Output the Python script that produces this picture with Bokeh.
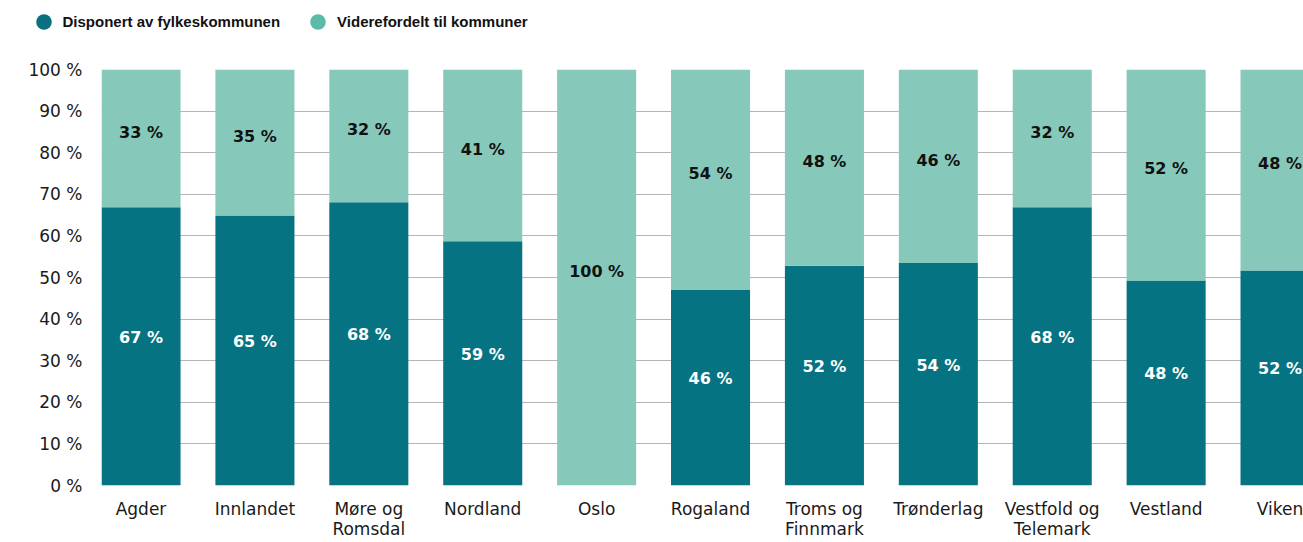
from bokeh.plotting import figure
from bokeh.models import Range1d, FixedTicker, Legend, LegendItem, ColumnDataSource
from bokeh.core.properties import value
from bokeh.embed import file_html
from bokeh.resources import INLINE

# ---------------- data ----------------
categories = ["Agder", "Innlandet", "Møre og\nRomsdal", "Nordland", "Oslo", "Rogaland",
              "Troms og\nFinnmark", "Trønderlag", "Vestfold og\nTelemark", "Vestland", "Viken"]
# share disposed by the county (bar height, %)
dark_share = [66.9, 64.9, 68.1, 58.7, 0.0, 47.0, 52.8, 53.5, 66.9, 49.3, 51.7]
# printed labels
dark_labels = [67, 65, 68, 59, None, 46, 52, 54, 68, 48, 52]
light_labels = [33, 35, 32, 41, 100, 54, 48, 46, 32, 52, 48]
series_names = ["Disponert av fylkeskommunen", "Viderefordelt til kommuner"]
y_ticks = [0, 10, 20, 30, 40, 50, 60, 70, 80, 90, 100]
y_tick_labels = ["0 %", "10 %", "20 %", "30 %", "40 %", "50 %", "60 %", "70 %", "80 %", "90 %", "100 %"]

# ---------------- style ----------------
DARK = "#067383"
LIGHT = "#86C9BA"
LEGEND_DARK = "#0A6F80"
LEGEND_LIGHT = "#5CBBA8"
GRID = "#b5b5b5"
TEXT = "#1a1a1a"
BAR_W = 0.694
W = 1303
LEG_H = 42

xs = list(range(len(categories)))
light_share = [100 - d for d in dark_share]

bars = ColumnDataSource(dict(x=xs, dark=dark_share, top=[100] * len(xs)))

p = figure(width=W, height=542 - LEG_H,
           x_range=Range1d(-BAR_W / 2, -BAR_W / 2 + 10.553),
           y_range=Range1d(0, 100),
           output_backend="svg", toolbar_location=None,
           min_border_left=101, min_border_right=0, min_border_top=69 - LEG_H, min_border_bottom=57)
p.outline_line_color = None
p.background_fill_color = "white"
p.border_fill_color = "white"

p.vbar(x="x", bottom=0, top="dark", width=BAR_W, source=bars, fill_color=DARK, line_color=None)
p.vbar(x="x", bottom="dark", top="top", width=BAR_W, source=bars, fill_color=LIGHT, line_color=None)

# data labels
dx, dy, dt = [], [], []
for i, (d, lab) in enumerate(zip(dark_share, dark_labels)):
    if lab is not None:
        dx.append(i); dy.append(d / 2); dt.append(f"{lab} %")
lx, ly, lt = [], [], []
for i, (d, l, lab) in enumerate(zip(dark_share, light_share, light_labels)):
    lx.append(i); ly.append(d + l / 2); lt.append(f"{lab} %")

p.text(x=dx, y=dy, text=dt, text_align="center", text_baseline="middle",
       text_font=value("DejaVu Sans"), text_font_style="bold", text_font_size="16px",
       text_color="white", y_offset=-9)
p.text(x=lx, y=ly, text=lt, text_align="center", text_baseline="middle",
       text_font=value("DejaVu Sans"), text_font_style="bold", text_font_size="16px",
       text_color="#111111", y_offset=-6)

# axes
p.xgrid.visible = False
p.ygrid.ticker = FixedTicker(ticks=y_ticks)
p.ygrid.grid_line_color = GRID
p.ygrid.grid_line_width = 1

p.yaxis.ticker = FixedTicker(ticks=y_ticks)
p.yaxis.major_label_overrides = {t: s for t, s in zip(y_ticks, y_tick_labels)}
p.yaxis.axis_line_color = None
p.yaxis.major_tick_line_color = None
p.yaxis.minor_tick_line_color = None
p.yaxis.major_tick_out = 0
p.yaxis.major_tick_in = 0
p.yaxis.major_label_standoff = 19
p.yaxis.major_label_text_font = "DejaVu Sans"
p.yaxis.major_label_text_font_size = "17px"
p.yaxis.major_label_text_color = TEXT

p.xaxis.ticker = FixedTicker(ticks=xs)
p.xaxis.major_label_overrides = {i: c for i, c in zip(xs, categories)}
p.xaxis.axis_line_color = None
p.xaxis.major_tick_line_color = None
p.xaxis.minor_tick_line_color = None
p.xaxis.major_tick_out = 0
p.xaxis.major_tick_in = 0
p.xaxis.major_label_standoff = 13
p.xaxis.major_label_text_font = "DejaVu Sans"
p.xaxis.major_label_text_font_size = "17px"
p.xaxis.major_label_text_line_height = 1.0
p.xaxis.major_label_text_color = TEXT

# legend strip above the chart (circle markers), a separate root so its frame is the whole strip
leg = figure(width=W, height=LEG_H, x_range=Range1d(0, 1), y_range=Range1d(0, 1),
             output_backend="svg", toolbar_location=None,
             x_axis_location=None, y_axis_location=None,
             min_border_left=0, min_border_right=0, min_border_top=0, min_border_bottom=0)
leg.outline_line_color = None
leg.grid.visible = False
nan = float("nan")
r1 = leg.scatter(x=[nan], y=[nan], marker="circle", fill_color=LEGEND_DARK, line_color=None)
r2 = leg.scatter(x=[nan], y=[nan], marker="circle", fill_color=LEGEND_LIGHT, line_color=None)
legend = Legend(items=[LegendItem(label=series_names[0], renderers=[r1]),
                       LegendItem(label=series_names[1], renderers=[r2])],
                orientation="horizontal", location=(23.5, 1.5),
                glyph_width=39, glyph_height=39, label_standoff=0, spacing=18,
                padding=0, margin=0, border_line_color=None, background_fill_alpha=0,
                label_text_font="Liberation Sans", label_text_font_style="bold",
                label_text_font_size="15px", label_text_color="#111111")
leg.add_layout(legend)

open("out.html", "w").write(file_html([leg, p], INLINE))
